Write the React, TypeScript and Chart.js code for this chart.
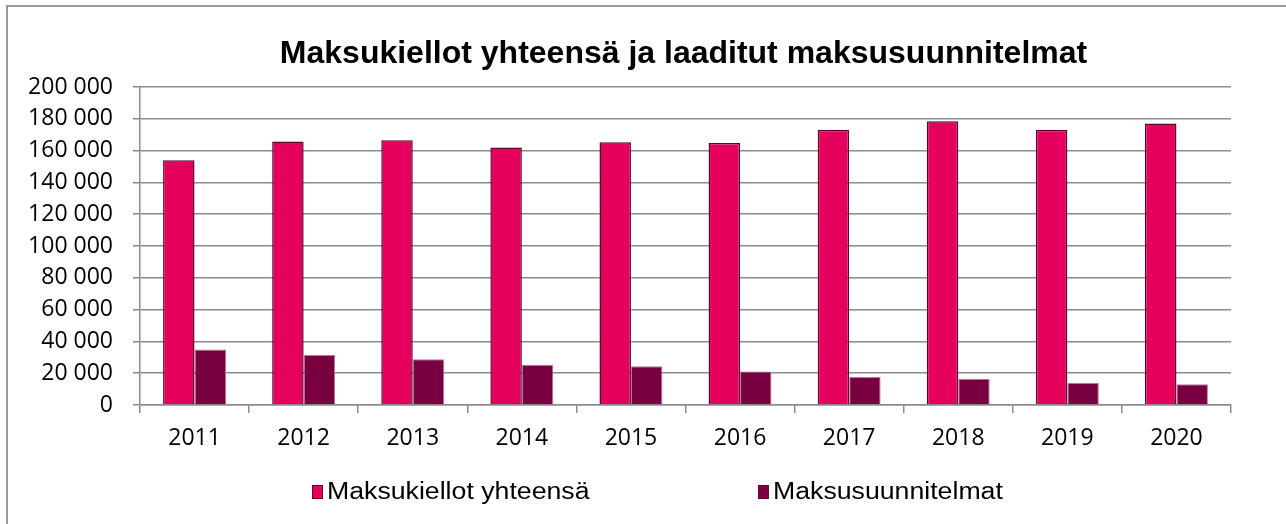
import React, { useEffect, useRef } from "react";
import { Chart, registerables } from "chart.js";

Chart.register(...registerables);

const categories = ["2011", "2012", "2013", "2014", "2015", "2016", "2017", "2018", "2019", "2020"];
const maksukiellot = [153900, 165700, 166500, 161900, 165300, 164800, 173100, 178500, 173100, 177100];
const maksusuunnitelmat = [34900, 31400, 28700, 25300, 24300, 21100, 17600, 16500, 13800, 13000];
const yTicks = [0, 20000, 40000, 60000, 80000, 100000, 120000, 140000, 160000, 180000, 200000];
const seriesNames = ["Maksukiellot yhteensä", "Maksusuunnitelmat"];
const titleText = "Maksukiellot yhteensä ja laaditut maksusuunnitelmat";

const PINK = "#E6005E";
const DARK = "#780040";
const GRID = "#8c8c8c";

const fmt = (v: number) => String(v).replace(/\B(?=(\d{3})+(?!\d))/g, " ");

const overlayPlugin = {
  id: "overlay",
  afterDraw(chart: any) {
    const ctx = chart.ctx as CanvasRenderingContext2D;
    const ca = chart.chartArea;
    ctx.save();
    ctx.fillStyle = "#000";
    ctx.font = 'bold 32px "Liberation Sans", Arial, sans-serif';
    ctx.textAlign = "center";
    ctx.textBaseline = "alphabetic";
    ctx.fillText(titleText, (ca.left + ca.right) / 2 - 2, 63);

    const starts = [312, 758];
    chart.data.datasets.forEach((ds: any, i: number) => {
      const x = starts[i];
      ctx.fillStyle = ds.backgroundColor;
      ctx.fillRect(x, 485, 11, 14);
      if (i === 0) {
        ctx.strokeStyle = "#6a0036";
        ctx.lineWidth = 1;
        ctx.strokeRect(x + 0.5, 485.5, 10, 13);
      }
      ctx.save();
      ctx.translate(x + 15, 499);
      ctx.scale(1.16, 1);
      ctx.font = '23px "Liberation Sans", Arial, sans-serif';
      ctx.textAlign = "left";
      ctx.textBaseline = "alphabetic";
      ctx.fillStyle = "#000";
      ctx.fillText(ds.label, 0, 0);
      ctx.restore();
    });
    ctx.restore();
  },
};

export default function App() {
  const ref = useRef<HTMLCanvasElement | null>(null);
  useEffect(() => {
    if (!ref.current) return;
    const tickFont = { family: '"Open Sans", sans-serif', size: 23 };
    const chart = new Chart(ref.current, {
      type: "bar",
      data: {
        labels: categories,
        datasets: [
          {
            label: seriesNames[0],
            data: maksukiellot,
            backgroundColor: PINK,
            borderColor: "#5e0030",
            borderWidth: 1.5,
            categoryPercentage: 0.577,
            barPercentage: 1,
          },
          {
            label: seriesNames[1],
            data: maksusuunnitelmat,
            backgroundColor: DARK,
            borderColor: "#c2739a",
            borderWidth: 1,
            categoryPercentage: 0.577,
            barPercentage: 1,
          },
        ],
      },
      options: {
        animation: false,
        responsive: false,
        maintainAspectRatio: false,
        layout: { padding: { left: 0, top: 87, right: 55, bottom: 0 } },
        plugins: {
          legend: { display: false },
          title: { display: false },
          tooltip: { enabled: false },
        },
        scales: {
          x: {
            grid: { drawOnChartArea: false, drawTicks: true, tickLength: 8, color: GRID, lineWidth: 1.5, offset: true },
            border: { color: GRID, width: 1.5 },
            ticks: { color: "#000", font: tickFont, padding: 12, maxRotation: 0, autoSkip: false },
            afterFit: (s: any) => {
              s.height = 119;
            },
          },
          y: {
            min: 0,
            max: 200000,
            afterBuildTicks: (s: any) => {
              s.ticks = yTicks.map((v) => ({ value: v }));
            },
            grid: { color: GRID, lineWidth: 1.5, tickLength: 7, drawTicks: true },
            border: { color: GRID, width: 1.5 },
            ticks: { color: "#000", font: tickFont, padding: 20, callback: (v: any) => fmt(Number(v)) },
            afterFit: (s: any) => {
              s.width = 140;
            },
          },
        },
      },
      plugins: [overlayPlugin],
    });
    return () => chart.destroy();
  }, []);

  return (
    <div style={{ position: "absolute", left: 0, top: 0, width: 1286, height: 524, overflow: "hidden", background: "#fff" }}>
      <div
        style={{
          position: "absolute",
          left: 6,
          top: 5,
          width: 1400,
          height: 700,
          border: "2px solid #999",
          boxSizing: "border-box",
        }}
      />
      <canvas ref={ref} width={1286} height={524} style={{ position: "absolute", left: 0, top: 0, width: 1286, height: 524 }} />
    </div>
  );
}
